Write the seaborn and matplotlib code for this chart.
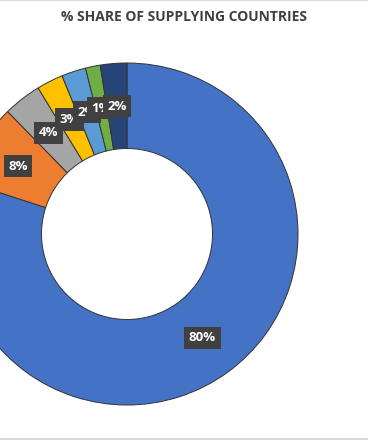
import matplotlib
matplotlib.use("Agg")
import matplotlib.pyplot as plt
from matplotlib.lines import Line2D
import seaborn as sns

# share of supplying countries
countries = ["Country A", "Country B", "Country C", "Country D", "Country E", "Country F", "Country G"]
shares = [80.0, 7.7, 3.6, 2.5, 2.3, 1.4, 2.5]
share_labels = ["80%", "8%", "4%", "3%", "2%", "1%", "2%"]
colors = ["#4472C4", "#ED7D31", "#A5A5A5", "#FFC000", "#5B9BD5", "#70AD47", "#264478"]

sns.set_theme(style="white")
plt.rcParams['font.family'] = ['Open Sans', 'DejaVu Sans']

W, H = 368, 440
fig = plt.figure(figsize=(W / 100, H / 100), dpi=100)
fig.patch.set_facecolor("white")

# donut centre (127, 234) px, outer radius 171 px -> axes placed in pixel terms
cx, cy, r = 127, 234, 171
ax = fig.add_axes([(cx - r) / W, (H - cy - r) / H, 2 * r / W, 2 * r / H])

wedges, texts = ax.pie(
    shares, colors=colors, startangle=90, counterclock=False, radius=1,
    wedgeprops=dict(width=0.5, edgecolor="#333333", linewidth=0.7),
    labels=share_labels, labeldistance=0.75,
    textprops=dict(color="white", fontsize=9.5, fontweight="bold", ha="center", va="center"),
)
for t in texts:
    t.set_bbox(dict(facecolor="#404040", edgecolor="none", boxstyle="square,pad=0.35"))
ax.set_xlim(-1, 1)
ax.set_ylim(-1, 1)
ax.set_aspect("auto")
ax.axis("off")

fig.text(0.5, 1 - 17 / H, "% SHARE OF SUPPLYING COUNTRIES", ha="center", va="center",
         fontsize=10, fontweight="bold", color="#404040")

# thin grey border lines at top and bottom of the chart area
fig.add_artist(Line2D([0, 1], [1 - 0.5 / H, 1 - 0.5 / H], color="#d9d9d9", lw=1.5, transform=fig.transFigure))
fig.add_artist(Line2D([0, 1], [1.5 / H, 1.5 / H], color="#d9d9d9", lw=1.5, transform=fig.transFigure))

fig.savefig("out.png", dpi=100)
